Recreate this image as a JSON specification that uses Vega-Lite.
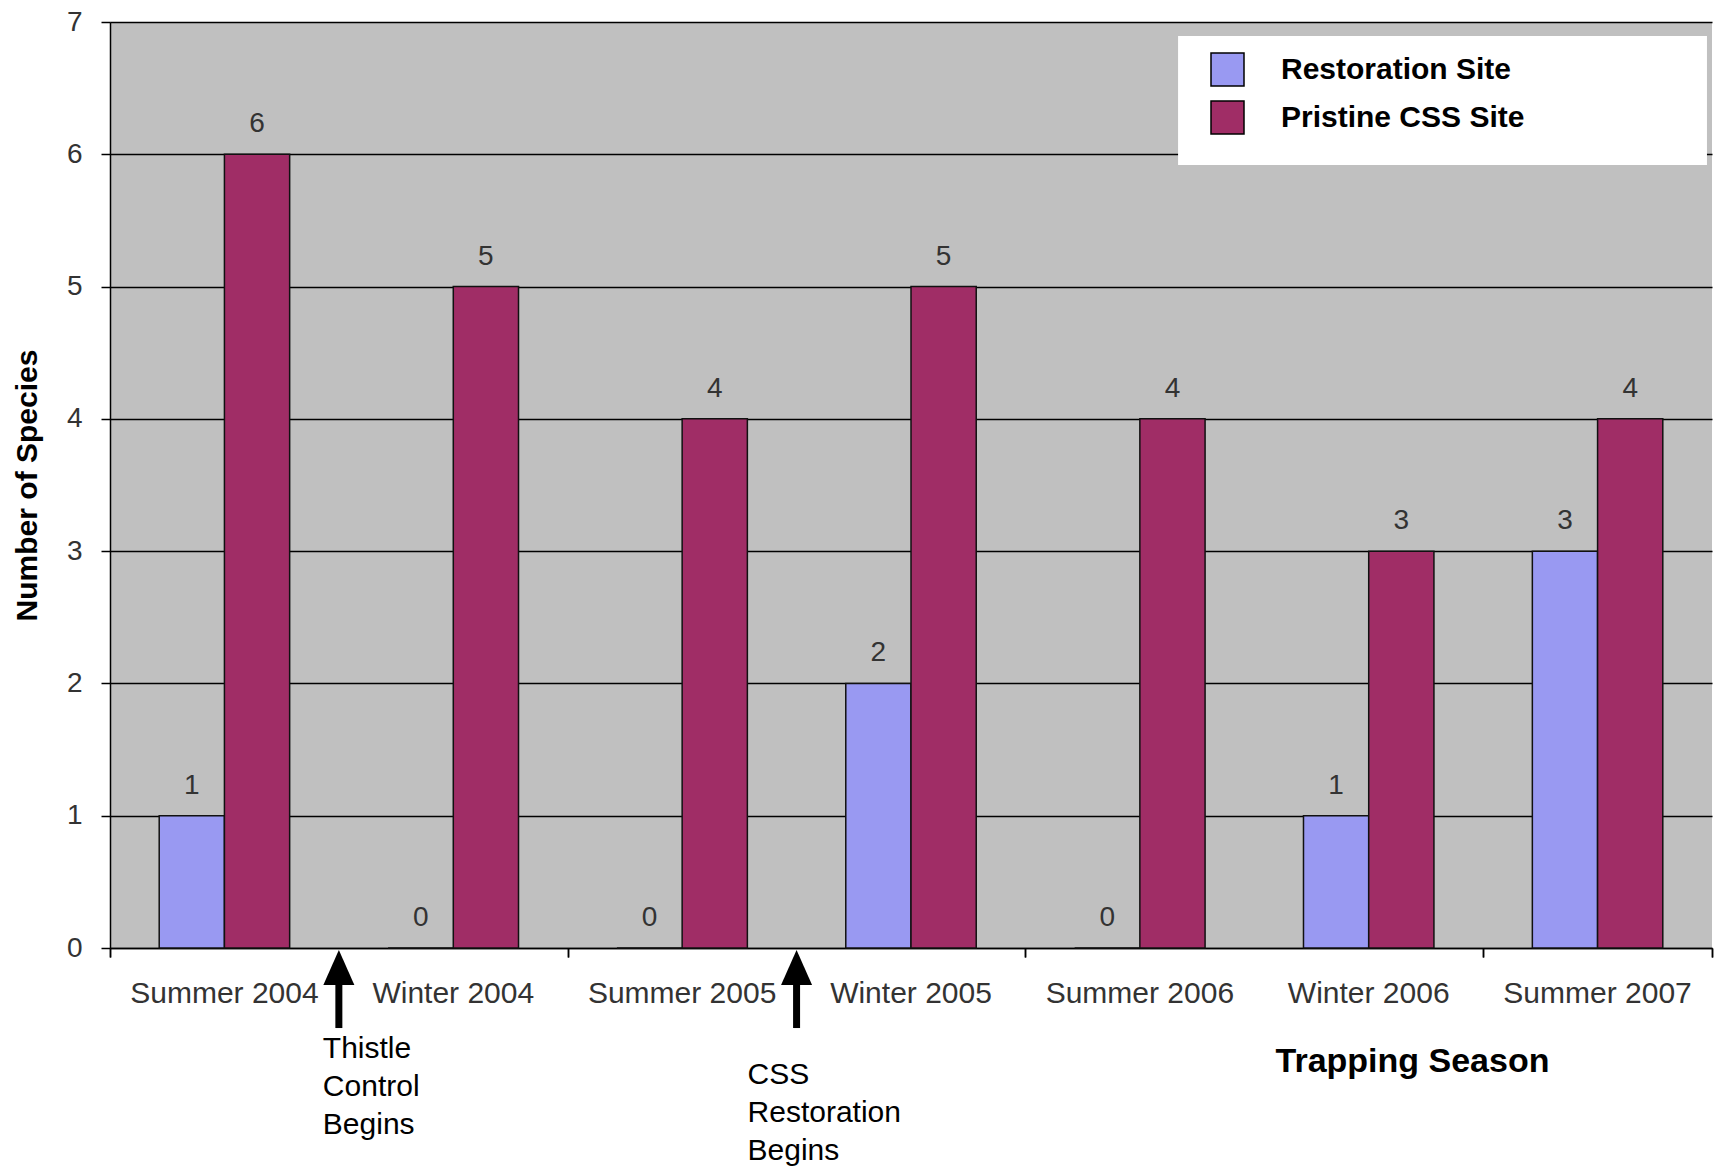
{
  "$schema": "https://vega.github.io/schema/vega-lite/v6.json",
  "width": 1602,
  "height": 926,
  "autosize": {"type": "none"},
  "padding": {"left": 110, "top": 22, "right": 9, "bottom": 221},
  "background": "white",
  "config": {"view": {"fill": "#C0C0C0", "stroke": null}, "font": "Liberation Sans"},
  "layer": [
    {
      "data": {"values": [{"box": "legend"}]},
      "mark": {"type": "rect", "color": "white", "opacity": 1},
      "encoding": {
        "x": {"datum": 4.667, "type": "quantitative", "scale": {"domain": [0, 7], "nice": false, "zero": false},
          "axis": {"orient": "bottom", "values": [0, 2, 4, 6, 7], "labels": false, "domain": false, "grid": false, "title": null, "tickColor": "black", "tickSize": 9, "tickWidth": 1.5}},
        "x2": {"datum": 6.978},
        "y": {"datum": 6.894, "type": "quantitative"},
        "y2": {"datum": 5.919}
      }
    },
    {
      "data": {
        "values": [
          {"season": "Summer 2004", "site": "Restoration Site", "count": 1},
          {"season": "Summer 2004", "site": "Pristine CSS Site", "count": 6},
          {"season": "Winter 2004", "site": "Restoration Site", "count": 0},
          {"season": "Winter 2004", "site": "Pristine CSS Site", "count": 5},
          {"season": "Summer 2005", "site": "Restoration Site", "count": 0},
          {"season": "Summer 2005", "site": "Pristine CSS Site", "count": 4},
          {"season": "Winter 2005", "site": "Restoration Site", "count": 2},
          {"season": "Winter 2005", "site": "Pristine CSS Site", "count": 5},
          {"season": "Summer 2006", "site": "Restoration Site", "count": 0},
          {"season": "Summer 2006", "site": "Pristine CSS Site", "count": 4},
          {"season": "Winter 2006", "site": "Restoration Site", "count": 1},
          {"season": "Winter 2006", "site": "Pristine CSS Site", "count": 3},
          {"season": "Summer 2007", "site": "Restoration Site", "count": 3},
          {"season": "Summer 2007", "site": "Pristine CSS Site", "count": 4}
        ]
      },
      "encoding": {
        "x": {
          "field": "season", "type": "nominal", "sort": null,
          "scale": {"paddingInner": 0.43, "paddingOuter": 0.215},
          "axis": {
            "orient": "bottom",
            "title": "Trapping Season", "labelAngle": 0, "ticks": false, "grid": false,
            "domainColor": "black", "domainWidth": 1.5, "labelLimit": 400,
            "labelFontSize": 30, "labelColor": "#333333", "labelPadding": 30,
            "titleFontSize": 34, "titleFontWeight": "bold", "titleColor": "black",
            "titleX": 1302, "titleY": 113, "titleAlign": "center", "titleBaseline": "middle"
          }
        },
        "xOffset": {
          "field": "site", "type": "nominal",
          "sort": ["Restoration Site", "Pristine CSS Site"],
          "scale": {"paddingInner": 0, "paddingOuter": 0}
        },
        "y": {
          "field": "count", "type": "quantitative",
          "scale": {"domain": [0, 7], "nice": false},
          "axis": {
            "title": "Number of Species", "values": [0, 1, 2, 3, 4, 5, 6, 7], "format": "d",
            "grid": true, "gridColor": "black", "gridWidth": 1.5, "gridOpacity": 1,
            "domainColor": "black", "domainWidth": 1.5,
            "tickColor": "black", "tickSize": 9, "tickWidth": 1.5,
            "labelFontSize": 28, "labelColor": "#333333", "labelPadding": 19,
            "titleFontSize": 30, "titleFontWeight": "bold", "titleColor": "black",
            "titleX": -83, "titleY": 463, "titleAngle": -90,
            "titleAlign": "center", "titleBaseline": "middle"
          }
        }
      },
      "layer": [
        {
          "mark": {"type": "bar", "stroke": "#111111", "strokeWidth": 1.5},
          "encoding": {
            "color": {
              "field": "site", "type": "nominal",
              "scale": {"domain": ["Restoration Site", "Pristine CSS Site"], "range": ["#9999F2", "#A02D66"]},
              "legend": {
                "orient": "none", "legendX": 1100, "legendY": 30, "padding": 0,
                "title": null,
                "symbolType": "square", "symbolSize": 1089,
                "symbolStrokeColor": "black", "symbolStrokeWidth": 1.5, "symbolOpacity": 1,
                "labelFontSize": 30, "labelFontWeight": "bold", "labelColor": "black",
                "labelOffset": 36, "labelLimit": 400, "rowPadding": 9
              }
            }
          }
        },
        {
          "mark": {"type": "text", "fontSize": 28, "color": "#333333", "dy": -30, "baseline": "middle"},
          "encoding": {"text": {"field": "count", "type": "quantitative"}}
        }
      ]
    },
    {
      "data": {
        "values": [
          {"at": 1, "event": "Thistle Control Begins"},
          {"at": 3, "event": "CSS Restoration Begins"}
        ]
      },
      "encoding": {
        "x": {
          "field": "at", "type": "quantitative",
          "scale": {"domain": [0, 7], "nice": false, "zero": false},
          "axis": {
            "orient": "bottom", "values": [0, 2, 4, 6, 7], "labels": false,
            "domain": false, "grid": false, "title": null,
            "tickColor": "black", "tickSize": 9, "tickWidth": 1.5
          }
        }
      },
      "layer": [
        {
          "mark": {"type": "rule", "strokeWidth": 7, "color": "black"},
          "encoding": {
            "y": {"datum": -0.147, "type": "quantitative"},
            "y2": {"datum": -0.605}
          }
        },
        {
          "mark": {"type": "point", "shape": "M0,-1L0.886,1L-0.886,1Z", "size": 1225, "filled": true, "color": "black", "opacity": 1},
          "encoding": {"y": {"datum": -0.147, "type": "quantitative"}}
        },
        {
          "transform": [{"filter": "datum.at == 1"}],
          "mark": {"type": "text", "fontSize": 30, "color": "black", "align": "left", "baseline": "top", "dx": -16, "lineBreak": " ", "lineHeight": 38},
          "encoding": {
            "y": {"datum": -0.65, "type": "quantitative"},
            "text": {"field": "event", "type": "nominal"}
          }
        },
        {
          "transform": [{"filter": "datum.at == 3"}],
          "mark": {"type": "text", "fontSize": 30, "color": "black", "align": "left", "baseline": "top", "dx": -49, "lineBreak": " ", "lineHeight": 38},
          "encoding": {
            "y": {"datum": -0.847, "type": "quantitative"},
            "text": {"field": "event", "type": "nominal"}
          }
        }
      ]
    }
  ],
  "resolve": {"scale": {"x": "independent"}, "axis": {"x": "independent"}}
}
